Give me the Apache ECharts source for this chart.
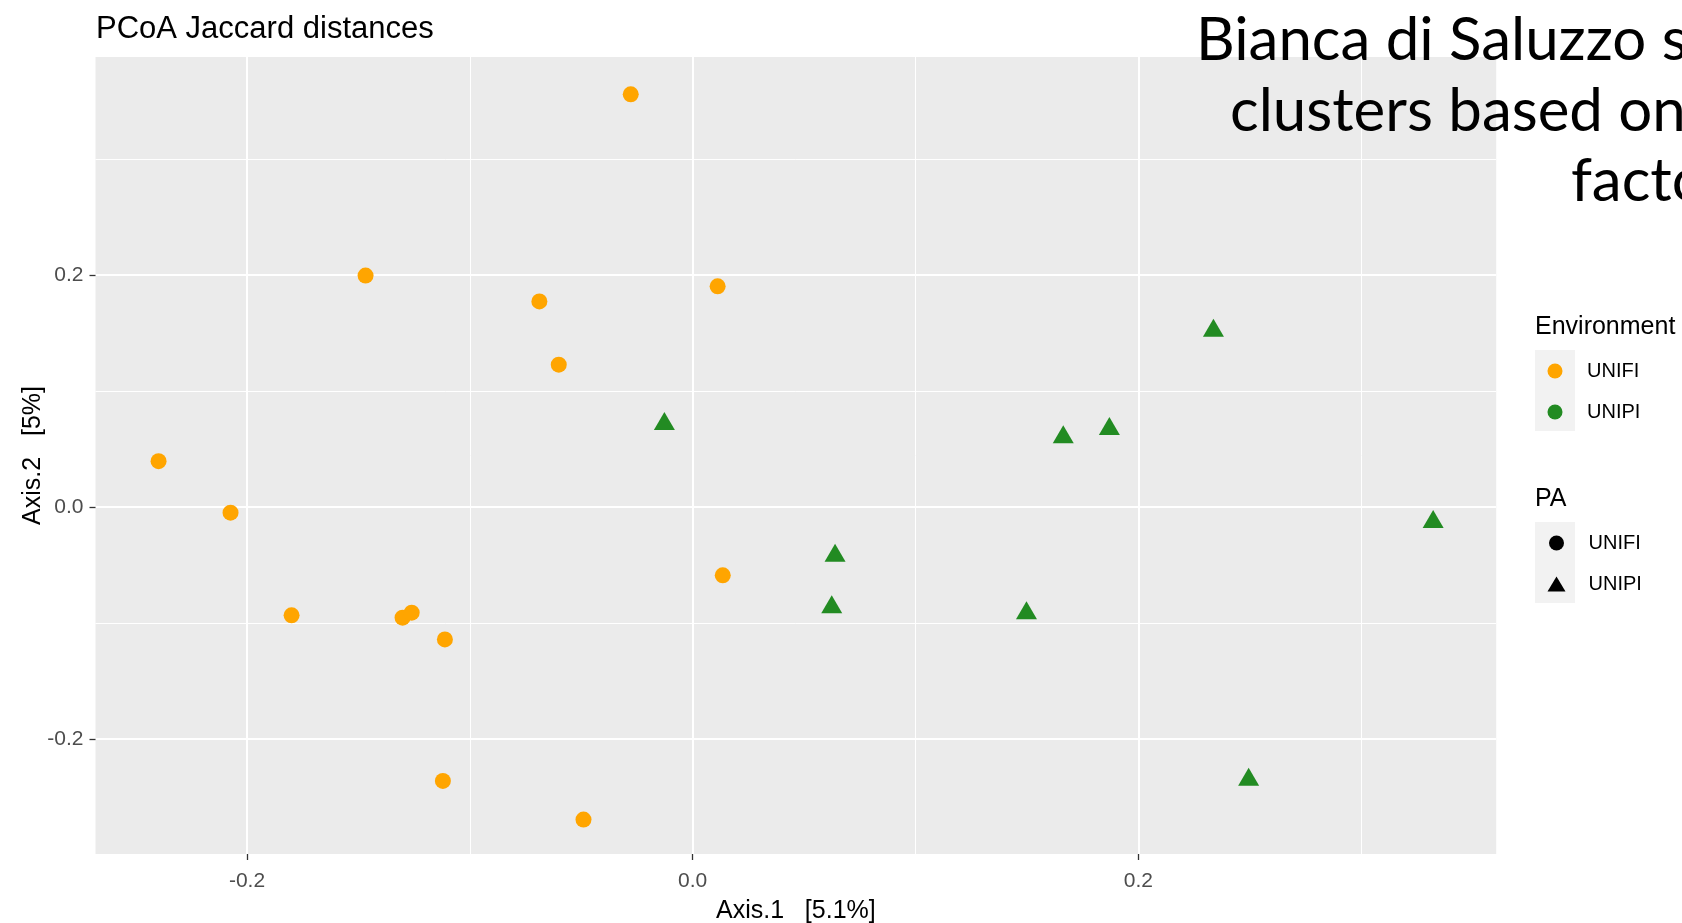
<!DOCTYPE html>
<html>
<head>
<meta charset="utf-8">
<script src="https://cdn.jsdelivr.net/npm/echarts@6/dist/echarts.min.js"></script>
<style>
  html, body { margin: 0; padding: 0; background: #fff; }
  #chart { width: 1682px; height: 923px; }
</style>
</head>
<body>
<div id="chart"></div>
<script>
    // PCoA coordinates
    const unifiX = [-0.0278, -0.1468, -0.0688, 0.0112, -0.0601, -0.2397, -0.2074, -0.1800, -0.1302, -0.1261, -0.1112, 0.0135, -0.1121, -0.0490];
    const unifiY = [0.3557, 0.1995, 0.1772, 0.1902, 0.1227, 0.0395, -0.0049, -0.0934, -0.0954, -0.0911, -0.1141, -0.0589, -0.2361, -0.2694];
    const unipiX = [-0.0127, 0.2337, 0.1663, 0.1870, 0.3323, 0.0639, 0.0624, 0.1498, 0.2495];
    const unipiY = [0.0741, 0.1546, 0.0627, 0.0698, -0.0104, -0.0394, -0.0839, -0.0889, -0.2326];

    const majorTicks = [-0.2, 0, 0.2];
    const minorTicks = [-0.1, 0.1, 0.3];

    const xRange = [-0.268, 0.3606];
    const yRange = [-0.2991, 0.3879];

    const FONT = '"Liberation Sans", Arial, sans-serif';
    const SLIDE_FONT = '60px Lato, "Open Sans", sans-serif';

    const chart = echarts.init(document.getElementById('chart'));

    function pairs(xs, ys) {
        return xs.map((x, i) => [x, ys[i]]);
    }

    function makeAxis(dir, isMajor) {
        const ax = {
            type: 'value',
            min: dir === 'x' ? xRange[0] : yRange[0],
            max: dir === 'x' ? xRange[1] : yRange[1],
            position: dir === 'x' ? 'bottom' : 'left',
            offset: 0,
            axisLine: { show: false, onZero: false },
            axisTick: {
                show: isMajor,
                customValues: isMajor ? majorTicks : minorTicks,
                length: 6,
                lineStyle: { color: '#333333', width: 1.3 }
            },
            axisLabel: {
                show: isMajor,
                customValues: majorTicks,
                formatter: v => v.toFixed(1),
                color: '#4D4D4D',
                fontFamily: FONT,
                fontSize: 21,
                margin: dir === 'x' ? 17 : 12
            },
            splitLine: {
                show: true,
                lineStyle: { color: '#FFFFFF', width: isMajor ? 2 : 1 }
            }
        };
        if (isMajor) {
            ax.name = dir === 'x' ? 'Axis.1   [5.1%]' : 'Axis.2   [5%]';
            ax.nameLocation = 'middle';
            ax.nameMoveOverlap = false;
            ax.nameGap = dir === 'x' ? 45 : 50;
            ax.nameTextStyle = { color: '#000', fontFamily: FONT, fontSize: 25 };
        }
        return ax;
    }

    const legendText = {
        color: '#000', fontFamily: FONT, fontSize: 20, lineHeight: 20,
        rich: { g: { width: 18 }, t: { color: '#000', fontFamily: FONT, fontSize: 20 } }
    };
    const legendLabel = name => '{g|}{t|' + name + '}';

    const option = {
        backgroundColor: '#FFFFFF',
        animation: false,
        title: {
            text: 'PCoA Jaccard distances',
            left: 91,
            top: 9,
            textStyle: { color: '#000', fontFamily: FONT, fontSize: 31, fontWeight: 'normal' }
        },
        grid: {
            left: 95.5,
            top: 57,
            width: 1400.7,
            height: 797,
            show: true,
            containLabel: false,
            outerBoundsMode: 'none',
            backgroundColor: '#EBEBEB',
            borderWidth: 0
        },
        xAxis: [makeAxis('x', false), makeAxis('x', true)],
        yAxis: [makeAxis('y', false), makeAxis('y', true)],
        legend: [
            {
                orient: 'vertical',
                left: 1547.5,
                top: 361,
                padding: 0,
                itemWidth: 18,
                itemHeight: 15,
                itemGap: 21,
                selectedMode: false,
                formatter: legendLabel,
                textStyle: legendText,
                data: [
                    { name: 'UNIFI', icon: 'circle' },
                    { name: 'UNIPI', icon: 'circle' }
                ]
            },
            {
                orient: 'vertical',
                left: 1547.5,
                top: 533,
                padding: 0,
                itemWidth: 18,
                itemHeight: 15,
                itemGap: 21,
                selectedMode: false,
                formatter: legendLabel,
                textStyle: legendText,
                data: [
                    { name: 'UNIFI', icon: 'circle', itemStyle: { color: '#000' } },
                    { name: 'UNIPI', icon: 'triangle', itemStyle: { color: '#000' } }
                ]
            }
        ],
        graphic: [
            { type: 'rect', z: -1, shape: { x: 1535, y: 350, width: 40, height: 81 }, style: { fill: '#F2F2F2' } },
            { type: 'rect', z: -1, shape: { x: 1535, y: 522, width: 40, height: 81 }, style: { fill: '#F2F2F2' } },
            { type: 'text', left: 1535, top: 315, style: { text: 'Environment', fill: '#000', font: '25px ' + FONT } },
            { type: 'text', left: 1535, top: 487, style: { text: 'PA', fill: '#000', font: '25px ' + FONT } },
            { type: 'text', z: 100, x: 1196, y: 41, style: { text: 'Bianca di Saluzzo s', fill: '#000', font: SLIDE_FONT, verticalAlign: 'middle' } },
            { type: 'text', z: 100, x: 1230, y: 112, style: { text: 'clusters based on', fill: '#000', font: SLIDE_FONT, verticalAlign: 'middle' } },
            { type: 'text', z: 100, x: 1571, y: 182, style: { text: 'facto', fill: '#000', font: SLIDE_FONT, verticalAlign: 'middle' } }
        ],
        series: [
            {
                name: 'UNIFI',
                type: 'scatter',
                xAxisIndex: 1,
                yAxisIndex: 1,
                symbol: 'circle',
                symbolSize: 16,
                itemStyle: { color: '#FFA500', opacity: 1 },
                data: pairs(unifiX, unifiY)
            },
            {
                name: 'UNIPI',
                type: 'scatter',
                xAxisIndex: 1,
                yAxisIndex: 1,
                symbol: 'triangle',
                symbolSize: [21, 18],
                itemStyle: { color: '#228B22', opacity: 1 },
                data: pairs(unipiX, unipiY)
            }
        ]
    };

    chart.setOption(option);
</script>
</body>
</html>
